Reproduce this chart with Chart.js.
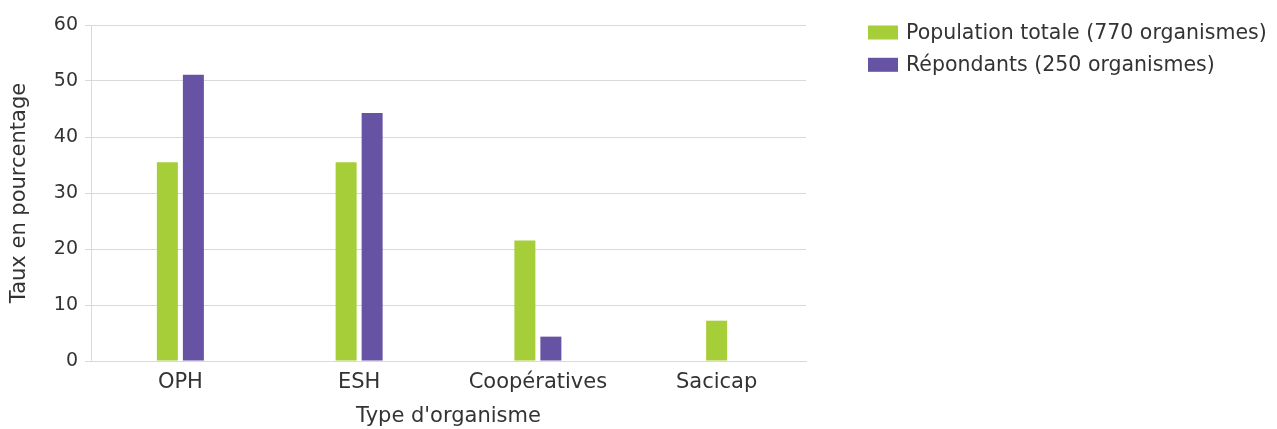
<!DOCTYPE html>
<html>
<head>
<meta charset="utf-8">
<script src="https://cdn.jsdelivr.net/npm/chart.js@4"></script>
<style>
  html, body { margin: 0; padding: 0; background: #ffffff; }
  #wrap { width: 1277px; height: 429px; position: relative; }
</style>
</head>
<body>
<div id="wrap"><canvas id="chart"></canvas></div>
<script>
// Répartition des organismes par type (en %)
const categories = ['OPH', 'ESH', 'Coopératives', 'Sacicap'];
const populationTotale = [35.5, 35.5, 21.5, 7.2];
const repondants = [51.1, 44.3, 4.35, null];
const seriesNames = ['Population totale (770 organismes)', 'Répondants (250 organismes)'];
const yTickValues = [0, 10, 20, 30, 40, 50, 60];

const GREEN = '#a6ce39';
const PURPLE = '#6753a3';
const TEXT = '#333333';
const GRID = '#d9d9d9';
const FONT = 'DejaVu Sans';

// Légende dessinée à droite de la zone de tracé
const sideLegend = {
  id: 'sideLegend',
  afterDraw(chart) {
    const ctx = chart.ctx;
    const area = chart.chartArea;
    ctx.save();
    ctx.font = '20.5px "' + FONT + '"';
    ctx.textBaseline = 'middle';
    ctx.textAlign = 'left';
    chart.data.datasets.forEach((ds, i) => {
      const x = area.right + 62;
      const y = area.top + 7.5 + i * 32.3;
      ctx.fillStyle = ds.backgroundColor;
      ctx.fillRect(x, y - 7, 30, 14);
      ctx.fillStyle = TEXT;
      ctx.fillText(ds.label, x + 38, y + 1);
    });
    ctx.restore();
  }
};

new Chart(document.getElementById('chart'), {
  type: 'bar',
  data: {
    labels: categories,
    datasets: [
      { label: seriesNames[0], data: populationTotale, backgroundColor: GREEN },
      { label: seriesNames[1], data: repondants, backgroundColor: PURPLE }
    ]
  },
  options: {
    responsive: true,
    maintainAspectRatio: false,
    animation: false,
    skipNull: true,
    categoryPercentage: 0.291,
    barPercentage: 0.808,
    maxBarThickness: 21,
    layout: { padding: { top: 25, right: 471, bottom: 0, left: 0 } },
    plugins: {
      legend: { display: false },
      tooltip: { enabled: false }
    },
    scales: {
      x: {
        grid: { display: false, drawTicks: false },
        border: { display: true, color: GRID },
        ticks: { color: TEXT, font: { family: FONT, size: 21 }, padding: 9 },
        title: {
          display: true, text: "Type d'organisme", color: TEXT,
          font: { family: FONT, size: 21 }, padding: { top: 0, bottom: 0 }
        },
        afterFit(scale) { scale.height = 68; }
      },
      y: {
        min: 0, max: 60,
        afterBuildTicks(scale) { scale.ticks = yTickValues.map(v => ({ value: v })); },
        grid: { color: GRID, tickLength: 6, drawTicks: true },
        border: { display: true, color: GRID },
        ticks: { color: TEXT, font: { family: FONT, size: 19 }, padding: 7 },
        title: {
          display: true, text: 'Taux en pourcentage', color: TEXT,
          font: { family: FONT, size: 21 }, padding: { top: 7, bottom: 0 }
        },
        afterFit(scale) { scale.width = 91; }
      }
    }
  },
  plugins: [sideLegend]
});
</script>
</body>
</html>
